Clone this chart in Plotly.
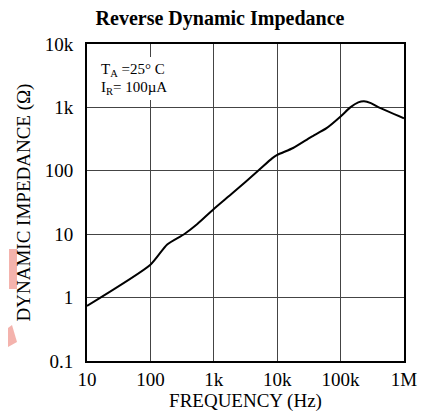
import plotly.graph_objects as go

freq_hz = [10, 100, 184, 340, 550, 1000, 2000, 5000, 8300, 10000, 17800, 34000,
           60000, 100000, 142000, 190000, 234000, 300000, 400000, 1000000]
impedance_ohm = [0.74, 3.3, 6.9, 10, 14.5, 25, 45, 100, 157, 178, 229, 340,
                 470, 718, 1000, 1200, 1250, 1170, 1000, 674]

x_tick_vals = [10, 100, 1000, 10000, 100000, 1000000]
x_tick_text = ["10", "100", "1k", "10k", "100k", "1M"]
y_tick_vals = [0.1, 1, 10, 100, 1000, 10000]
y_tick_text = ["0.1", "1", "10", "100", "1k", "10k"]

FONT = "Liberation Serif, Times New Roman, serif"

fig = go.Figure()
fig.add_trace(go.Scatter(
    x=freq_hz, y=impedance_ohm, mode="lines",
    line=dict(color="black", width=2, shape="spline", smoothing=0.6),
    showlegend=False, hoverinfo="skip"))

# page body adds an 8px offset; figure sized to fill the 428x419 window
OFF = 8
W, H = 420, 411
L, T = 87 - OFF, 44 - OFF
R = W - (404 - OFF)
B = H - (361 - OFF)
pw, ph = W - L - R, H - T - B

def px(xp):
    return (xp - OFF - L) / pw

def py(yp):
    return (H - B - (yp - OFF)) / ph

shapes = [
    # white box behind the condition text
    dict(type="rect", xref="paper", yref="paper", x0=px(88), x1=px(168),
         y0=py(100), y1=py(57), fillcolor="white", line=dict(width=0), layer="above"),
    # pink watermark pieces
    dict(type="rect", xref="paper", yref="paper", x0=px(9), x1=px(17),
         y0=py(289), y1=py(249), fillcolor="#f4b3ad", line=dict(width=0)),
    dict(type="path", xref="paper", yref="paper",
         path="M {} {} L {} {} L {} {} L {} {} Z".format(
             px(8), py(328), px(12), py(325), px(17), py(342), px(8), py(347)),
         fillcolor="#f4b3ad", line=dict(width=0)),
]

fig.update_layout(
    width=W, height=H,
    margin=dict(l=L, r=R, t=T, b=B, pad=0, autoexpand=False),
    paper_bgcolor="white", plot_bgcolor="white",
    font=dict(family=FONT, color="black", size=19),
    title=dict(text="<b>Reverse Dynamic Impedance</b>", x=(220 - OFF) / W, xanchor="center",
               y=1 - (18 - OFF) / H, yanchor="middle", font=dict(family=FONT, size=20)),
    xaxis=dict(type="log", range=[1, 6], tickvals=x_tick_vals, ticktext=x_tick_text,
               showgrid=True, gridcolor="#444", gridwidth=1, ticks="",
               showline=True, linecolor="black", linewidth=2, mirror=True,
               ticklabelstandoff=0, tickfont=dict(family=FONT, size=19), automargin=False,
               title=dict(text="FREQUENCY (Hz)", standoff=4, font=dict(family=FONT, size=19)),
               zeroline=False),
    yaxis=dict(type="log", range=[-1, 4], tickvals=y_tick_vals, ticktext=y_tick_text,
               showgrid=True, gridcolor="#444", gridwidth=1, ticks="",
               showline=True, linecolor="black", linewidth=2, mirror=True,
               ticklabelstandoff=8, tickfont=dict(family=FONT, size=19), automargin=False,
               title=dict(text="DYNAMIC IMPEDANCE (Ω)", standoff=9, font=dict(family=FONT, size=19)),
               zeroline=False),
    shapes=shapes,
    annotations=[
        dict(xref="paper", yref="paper", x=px(99), y=py(70), xanchor="left", yanchor="middle",
             text="T<sub>A</sub> =25° C", showarrow=False, font=dict(family=FONT, size=15)),
        dict(xref="paper", yref="paper", x=px(99), y=py(88), xanchor="left", yanchor="middle",
             text="I<sub>R</sub>= 100µA", showarrow=False, font=dict(family=FONT, size=15)),
    ],
)

fig.write_html("out.html")
